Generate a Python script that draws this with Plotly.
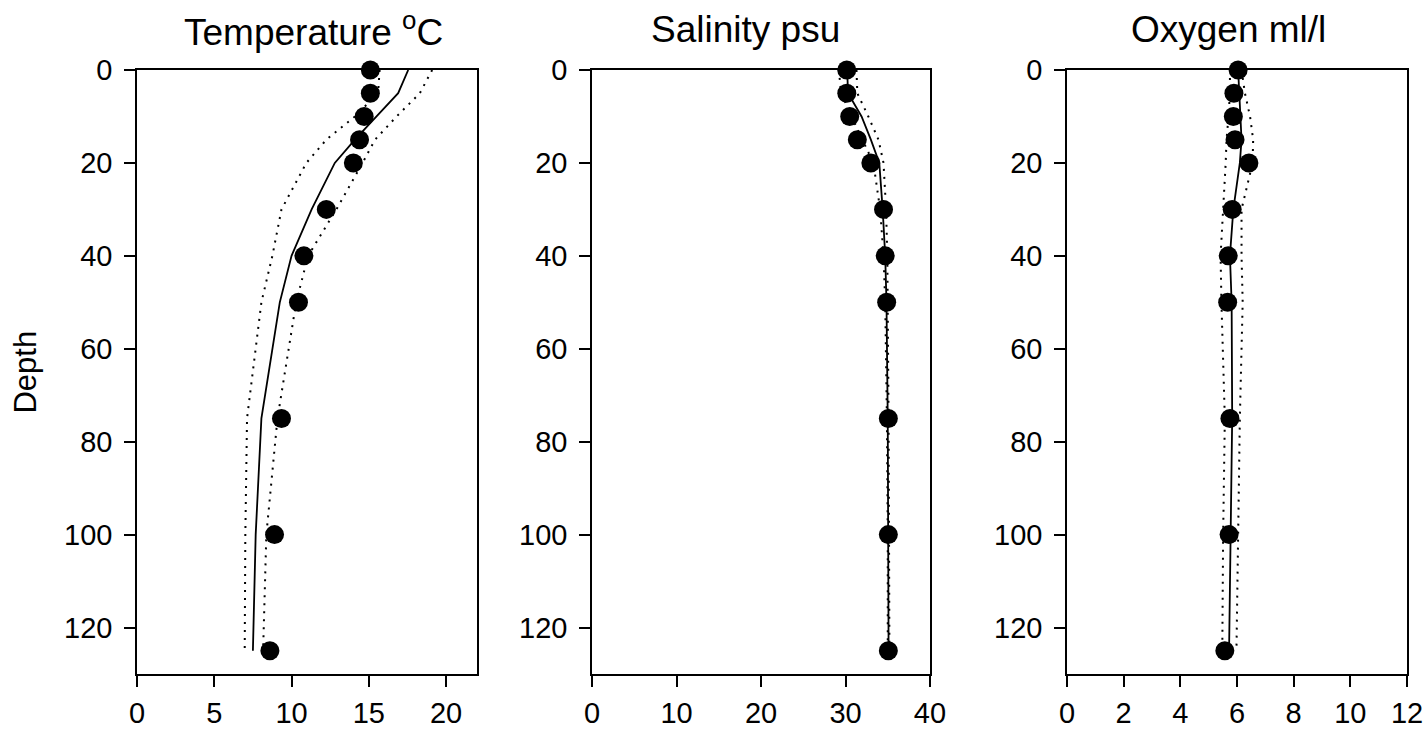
import plotly.graph_objects as go

# Sampling depths (m)
depth = [0, 5, 10, 15, 20, 30, 40, 50, 75, 100, 125]

# Temperature (°C): observations, mean profile and its lower/upper envelope
temp_obs = [15.1, 15.1, 14.7, 14.4, 14.0, 12.25, 10.8, 10.45, 9.35, 8.9, 8.6]
temp_mean = [17.55, 16.9, 15.5, 14.1, 12.8, 11.3, 10.0, 9.24, 8.05, 7.68, 7.5]
temp_low = [15.7, 15.6, 14.1, 12.25, 10.96, 9.35, 8.76, 8.05, 7.12, 7.01, 6.97]
temp_high = [19.1, 18.3, 16.8, 15.4, 14.6, 12.9, 11.07, 10.3, 9.09, 8.37, 8.16]

# Salinity (psu)
sal_obs = [30.15, 30.15, 30.5, 31.4, 33.0, 34.5, 34.7, 34.87, 35.07, 35.07, 35.07]
sal_mean = [30.2, 30.3, 31.9, 33.0, 34.0, 34.4, 34.7, 34.85, 35.0, 35.05, 35.1]
sal_low = [29.2, 29.5, 30.7, 32.0, 33.3, 34.1, 34.5, 34.7, 34.9, 35.0, 35.0]
sal_high = [31.3, 31.4, 32.7, 33.9, 34.5, 34.8, 34.95, 35.0, 35.1, 35.15, 35.2]

# Dissolved oxygen (ml/l)
oxy_obs = [6.04, 5.89, 5.87, 5.93, 6.42, 5.83, 5.69, 5.67, 5.75, 5.72, 5.57]
oxy_mean = [6.04, 6.08, 6.14, 6.16, 6.1, 5.87, 5.75, 5.81, 5.83, 5.78, 5.72]
oxy_low = [5.75, 5.75, 5.7, 5.63, 5.6, 5.51, 5.42, 5.45, 5.57, 5.51, 5.48]
oxy_high = [6.16, 6.28, 6.46, 6.57, 6.55, 6.16, 6.16, 6.2, 6.1, 6.04, 5.98]

panels = [
    ("Temperature <sup>o</sup>C", temp_obs, temp_mean, temp_low, temp_high, [0, 22], 5, 0.519),
    ("Salinity psu", sal_obs, sal_mean, sal_low, sal_high, [0, 40], 10, 0.455),
    ("Oxygen ml/l", oxy_obs, oxy_mean, oxy_low, oxy_high, [0, 12], 2, 0.474),
]
domains = [[0.0, 0.2677], [0.3583, 0.6244], [0.7323, 1.0]]

FONT = "Liberation Sans, Arial, sans-serif"
fig = go.Figure()
annotations = []

for i, (title, obs, mean, low, high, xr, dt, tx) in enumerate(panels):
    n = "" if i == 0 else str(i + 1)
    xa, ya = "x" + n, "y" + n
    for env in (low, high):
        fig.add_trace(go.Scatter(
            x=env, y=depth, xaxis=xa, yaxis=ya, mode="lines",
            line=dict(color="black", width=2, dash="2px,6px"),
            showlegend=False, hoverinfo="skip"))
    fig.add_trace(go.Scatter(
        x=mean, y=depth, xaxis=xa, yaxis=ya, mode="lines",
        line=dict(color="black", width=1.8), showlegend=False))
    fig.add_trace(go.Scatter(
        x=obs, y=depth, xaxis=xa, yaxis=ya, mode="markers",
        marker=dict(color="black", size=19), cliponaxis=False,
        showlegend=False))

    axis_common = dict(
        showline=True, linecolor="black", linewidth=1.5, mirror=True,
        ticks="outside", ticklen=11, tickwidth=1.5, tickcolor="black",
        showgrid=False, zeroline=False, automargin=False,
        tickfont=dict(family=FONT, size=29, color="black"),
    )
    fig.update_layout(**{
        "xaxis" + n: dict(domain=domains[i], range=xr, dtick=dt, tick0=0,
                          anchor=ya, ticklabelstandoff=1, **axis_common),
        "yaxis" + n: dict(domain=[0, 1], range=[130, 0], dtick=20, tick0=0,
                          anchor=xa, ticklabelstandoff=6, **axis_common),
    })
    annotations.append(dict(
        text=title, xref="x" + n + " domain", yref="paper",
        x=tx, y=1.0678, xanchor="center", yanchor="middle",
        showarrow=False, font=dict(family=FONT, size=37, color="black")))

annotations.append(dict(
    text="Depth", xref="paper", yref="paper",
    x=-0.0885, y=0.5, xanchor="center", yanchor="middle", textangle=-90,
    showarrow=False, font=dict(family=FONT, size=31, color="black")))

fig.update_layout(
    width=1428, height=730,
    margin=dict(l=137, r=21, t=70, b=55.5, autoexpand=False),
    paper_bgcolor="white", plot_bgcolor="white",
    annotations=annotations,
)

fig.write_html("out.html")
